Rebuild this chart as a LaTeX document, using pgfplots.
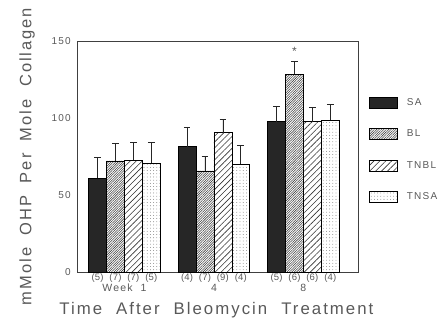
\documentclass[border=0pt]{standalone}
\usepackage{pgfplots}
\pgfplotsset{compat=1.18}
\usepackage{fontspec}
\setmainfont{Liberation Sans}[LetterSpace=12, WordSpace=1.9]
\usetikzlibrary{patterns.meta}
\definecolor{txt}{gray}{0.35}

\pgfplotstableread{
x y e
0 60.8 13.4
1 81.4 12.8
2 97.6 10.0
}\SA
\pgfplotstableread{
x y e
0 72.1 11.4
1 65.6 9.5
2 128.4 8.6
}\BL
\pgfplotstableread{
x y e
0 72.7 11.5
1 90.5 8.4
2 97.6 9.1
}\TNBL
\pgfplotstableread{
x y e
0 70.6 13.8
1 69.9 12.3
2 98.5 10.5
}\TNSA

\begin{document}
\begin{tikzpicture}
\path[use as bounding box] (0,0) rectangle (445pt,321pt);
\begin{axis}[
  at={(77pt,49pt)}, anchor=south west,
  scale only axis, width=281pt, height=231pt,
  xmin=-0.53, xmax=2.61, ymin=0, ymax=150,
  ybar, bar width=0.2,
  clip=false,
  axis line style={black!75, line width=0.6pt},
  ytick={0,50,100,150},
  major tick length=0pt,
  xtick={-0.3,-0.1,0.1,0.3,0.7,0.9,1.1,1.3,1.7,1.9,2.1,2.3},
  xticklabels={(5),(7),(7),(5),(4),(7),(9),(4),(5),(6),(6),(4)},
  xticklabel style={font=\fontsize{9.5}{9.5}\selectfont\addfontfeature{LetterSpace=2}, text=txt, inner sep=1pt},
  yticklabel style={font=\fontsize{10}{11}\selectfont, text=txt, inner sep=2pt, xshift=-4pt},
  /pgf/number format/assume math mode=true,
  xlabel={Time\hspace{14pt}After\hspace{14pt}Bleomycin\hspace{14pt}Treatment},
  ylabel={mMole OHP Per Mole Collagen},
  xlabel style={at={(axis description cs:0.496,-0.165)}, anchor=center, font=\fontsize{16.8}{18}\selectfont, text=txt},
  ylabel style={at={(axis description cs:-0.178,0.5)}, anchor=center, font=\fontsize{16.5}{18}\selectfont, text=txt},
  legend style={at={(axis description cs:1.04,0.765)}, anchor=north west, draw=none, fill=none,
    font=\fontsize{10}{11}\selectfont, text=txt, row sep=17pt, inner sep=0pt,
    nodes={inner sep=3pt}},
  legend cell align=left,
  every axis plot post/.append style={legend image code/.code={\draw[##1] (0pt,-5.5pt) rectangle (28pt,5.5pt); \path (34pt,0pt);}},
  error bars/y dir=plus, error bars/y explicit,
  error bars/error bar style={black!85, line width=0.6pt},
  error bars/error mark options={black!85, mark size=3.3pt, line width=0.6pt, rotate=90},
]
\addplot[bar shift=-0.3, draw=black, line width=0.5pt, fill=black!85] table[x=x, y=y, y error=e] {\SA};
\addlegendentry{SA}
\addplot[bar shift=-0.1, draw=black, line width=0.5pt, pattern={Lines[angle=45, distance=1.7pt, line width=0.55pt]}, pattern color=black!75] table[x=x, y=y, y error=e] {\BL};
\addlegendentry{BL}
\addplot[bar shift=0.1, draw=black, line width=0.5pt, pattern={Lines[angle=45, distance=4.2pt, line width=0.6pt]}, pattern color=black!80] table[x=x, y=y, y error=e] {\TNBL};
\addlegendentry{TNBL}
\addplot[bar shift=0.3, draw=black, line width=0.5pt, pattern={Dots[distance=3.2pt, radius=0.4pt]}, pattern color=black!65] table[x=x, y=y, y error=e] {\TNSA};
\addlegendentry{TNSA}
\node[font=\fontsize{12}{12}\selectfont, text=txt] at (axis cs:1.9,143) {*};
\node[font=\fontsize{10.5}{11}\selectfont, text=txt] at (axis cs:0,0) [yshift=-16pt] {Week 1};
\node[font=\fontsize{10.5}{11}\selectfont, text=txt] at (axis cs:1,0) [yshift=-16pt] {4};
\node[font=\fontsize{10.5}{11}\selectfont, text=txt] at (axis cs:2,0) [yshift=-16pt] {8};
\end{axis}
\end{tikzpicture}
\end{document}
